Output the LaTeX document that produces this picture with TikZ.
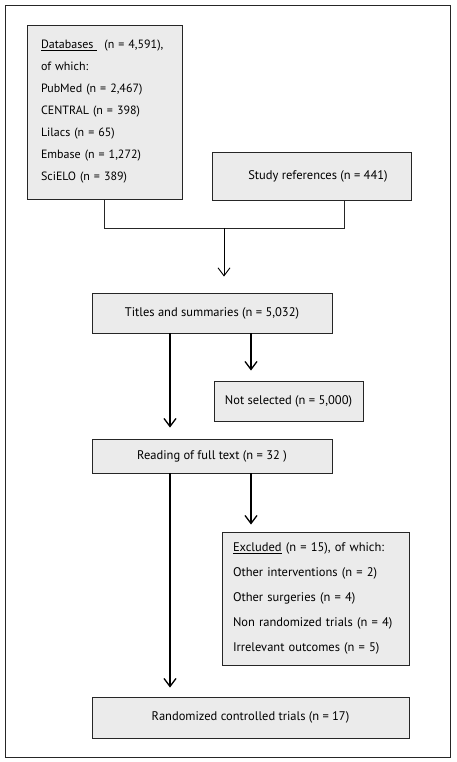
\documentclass[tikz,border=0pt]{standalone}
\usepackage{fontspec}
\setmainfont{PT Sans}
\usetikzlibrary{arrows.meta,positioning}
\tikzset{stage/.style={draw=black!85,fill=black!8,line width=0.9pt,inner sep=0pt,font=\fontsize{12.5}{22}\selectfont},
flow/.style={line width=1.3pt,-{Straight Barb[length=8pt,width=12pt]}}}

\begin{document}
\begin{tikzpicture}[x=1pt,y=-1pt]
                \useasboundingbox (0,0) rectangle (456,762);
                \draw[line width=0.9pt,black!85] (5,5) rectangle (450,757);
                \node[stage,minimum width=155,minimum height=174,text width=127,align=left,font=\fontsize{12}{22}\selectfont] (db) at (104.5,112)
                    {\mbox{\underline{Databases\hspace{4pt}}\hspace{7pt}(n = 4,591),}\\of which:\\PubMed (n = 2,467)\\CENTRAL (n = 398)\\Lilacs (n = 65)\\Embase (n = 1,272)\\SciELO (n = 389)};
                \node[stage,minimum width=199,minimum height=48] (refs) at (311.5,176) {\hspace{13pt}Study references (n = 441)};
                \node[stage,minimum width=240,minimum height=40] (titles) at (212,313) {Titles and summaries (n = 5,032)};
                \node[stage,minimum width=149,minimum height=40] (notsel) at (288.5,401) {Not selected (n = 5,000)};
                \node[stage,minimum width=240,minimum height=34] (reading) at (212,456) {Reading of full text (n = 32 )};
                \node[stage,minimum width=187,minimum height=133,text width=165,align=left,font=\fontsize{12.5}{25}\selectfont] (excl) at (315.5,598.5)
                    {\underline{Excluded} (n = 15), of which:\\Other interventions (n = 2)\\Other surgeries (n = 4)\\Non randomized trials (n = 4)\\Irrelevant outcomes (n = 5)};
                \node[stage,minimum width=317,minimum height=41] (rct) at (250.5,717.5) {Randomized controlled trials (n = 17)};
                \coordinate (merge) at (224,228);
                \coordinate (joinR) at (344,228);
                \coordinate (colL) at (170,0);
                \coordinate (colR) at (251,0);
                \draw[line width=0.9pt,black!85] (db.south) |- (joinR) -- (joinR |- refs.south);
                \draw[flow,line width=0.9pt,shorten >=16pt] (merge) -- (merge |- titles.north);
                \draw[flow,shorten >=11pt] (titles.south -| colL) -- (reading.north -| colL);
                \draw[flow,shorten >=10pt] (titles.south -| colR) -- (notsel.north -| colR);
                \draw[flow,shorten >=7pt] (reading.south -| colR) -- (excl.north -| colR);
                \draw[flow,shorten >=9pt] (reading.south -| colL) -- (rct.north -| colL);
            \end{tikzpicture}
\end{document}
